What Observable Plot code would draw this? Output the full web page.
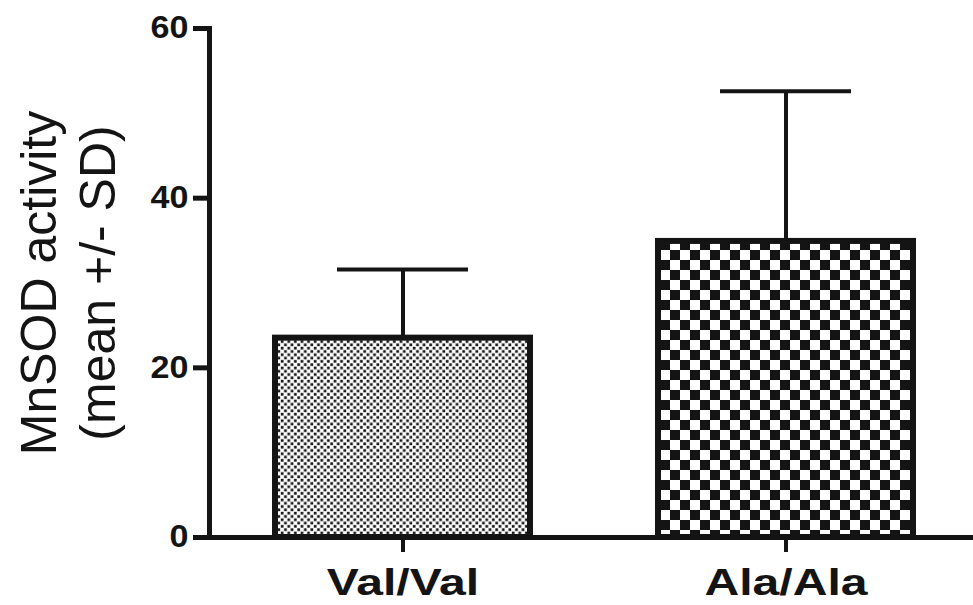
<!DOCTYPE html>
<html><head><meta charset="utf-8">
<script src="https://cdn.jsdelivr.net/npm/d3@7"></script>
<script src="https://cdn.jsdelivr.net/npm/@observablehq/plot@0.6"></script>
<style>
html,body{margin:0;padding:0;background:#fff;}
#chart{width:973px;height:605px;overflow:hidden;}
</style></head><body><div id="chart"></div>
<script>
// ---- data ----
const categories = ["Val/Val", "Ala/Ala"];
const means = [23.5, 34.9];
const sds = [8.1, 17.7];
const yTicks = [0, 20, 40, 60];
const yTitle = ["MnSOD activity", "(mean +/- SD)"];
const patterns = ["url(#fineCheck)", "url(#coarseCheck)"];

const data = categories.map((c, i) => ({genotype: c, mean: means[i], sd: sds[i], top: means[i] + sds[i]}));

const ink = "#141414";
const plot = Plot.plot({
  width: 973, height: 605,
  marginLeft: 209, marginRight: 0, marginTop: 28, marginBottom: 68,
  style: {fontFamily: "'Liberation Sans', Arial, sans-serif", color: ink, background: "#fff", overflow: "hidden"},
  x: {domain: categories, range: [209, 979], paddingInner: 0.334, paddingOuter: 0.172, align: 0.5},
  y: {domain: [0, 60], range: [537, 28]},
  color: {type: "ordinal", domain: categories, range: patterns},
  marks: [
    Plot.barY(data, {x: "genotype", y: "mean", fill: "genotype", stroke: ink, strokeWidth: 6}),
    Plot.ruleX(data, {x: "genotype", y1: "mean", y2: "top", stroke: ink, strokeWidth: 4}),
    Plot.tickY(data, {x: "genotype", y: "top", stroke: ink, strokeWidth: 4, insetLeft: 62, insetRight: 62}),
    Plot.frame({anchor: "left", stroke: ink, strokeWidth: 5}),
    Plot.ruleY([0], {stroke: ink, strokeWidth: 5}),
    Plot.axisY({ticks: yTicks, tickSize: 16, tickPadding: 5, strokeWidth: 5, fontSize: 31, fontWeight: "bold", label: null}),
    Plot.axisX({tickSize: 15, tickPadding: 16, strokeWidth: 4, fontSize: 37, fontWeight: "bold", label: null}),
    Plot.text([yTitle.join("\n")], {frameAnchor: "left", rotate: -90, dx: -143, fontSize: 50, lineHeight: 1.18, textAnchor: "middle", lineAnchor: "middle", fill: ink})
  ]
});

// pattern fills
const svg = d3.select(plot);
const defs = svg.insert("defs", ":first-child");
function checker(id, cell, dot) {
  const o = (cell - dot) / 2;
  const p = defs.append("pattern").attr("id", id).attr("patternUnits", "userSpaceOnUse")
    .attr("width", cell * 2).attr("height", cell * 2);
  p.append("rect").attr("width", cell * 2).attr("height", cell * 2).attr("fill", "#fff");
  p.append("rect").attr("x", o).attr("y", o).attr("width", dot).attr("height", dot).attr("fill", ink);
  p.append("rect").attr("x", cell + o).attr("y", cell + o).attr("width", dot).attr("height", dot).attr("fill", ink);
}
checker("fineCheck", 3.3, 2.7);
checker("coarseCheck", 10, 10);

document.getElementById("chart").appendChild(plot);

// widen tick labels like the (horizontally stretched) reference
function stretch(sel, k) {
  svg.selectAll(sel).each(function () {
    const len = this.getComputedTextLength();
    d3.select(this).attr("textLength", len * k).attr("lengthAdjust", "spacingAndGlyphs");
  });
}
stretch('g[aria-label="x-axis tick label"] text', 1.3);
stretch('g[aria-label="y-axis tick label"] text', 1.1);
</script>
</body></html>
